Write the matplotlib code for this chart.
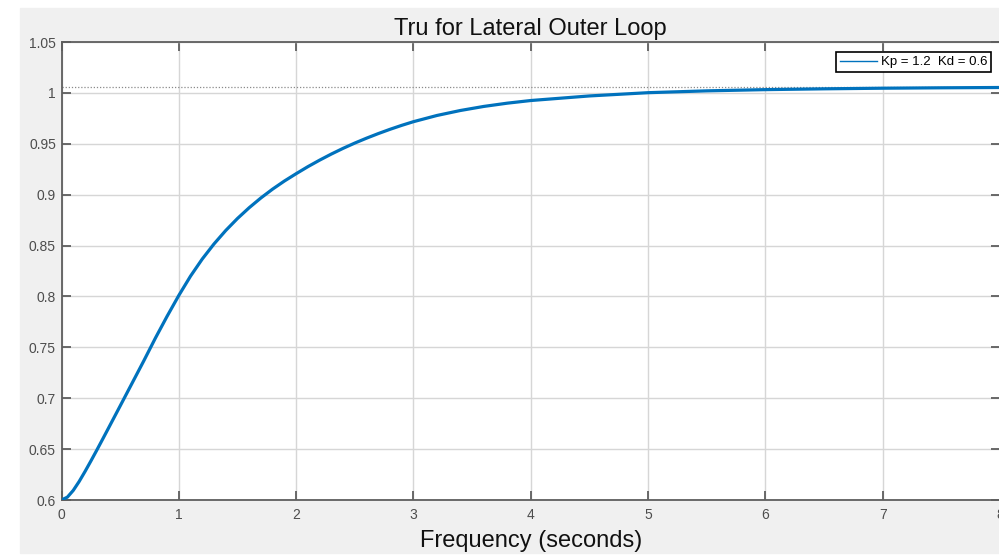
import matplotlib.pyplot as plt
from matplotlib.lines import Line2D
from matplotlib.patches import Rectangle

plt.rcParams['font.family'] = ['Liberation Sans', 'DejaVu Sans']

# values
t = [0, 0.05, 0.1, 0.15, 0.2, 0.25, 0.3, 0.35, 0.4, 0.5, 0.6, 0.7, 0.8, 0.9,
     1.0, 1.1, 1.2, 1.3, 1.4, 1.5, 1.6, 1.7, 1.8, 1.9, 2.0, 2.1, 2.2, 2.3,
     2.4, 2.5, 2.6, 2.7, 2.8, 2.9, 3.0, 3.2, 3.4, 3.6, 3.8, 4.0, 4.5, 5.0,
     5.5, 6.0, 6.5, 7.0, 7.5, 8.0]
y = [0.600, 0.6028, 0.6094, 0.6181, 0.6279, 0.6382, 0.6488, 0.6596, 0.6705,
     0.6924, 0.7144, 0.7364, 0.759, 0.7805, 0.801, 0.820, 0.8368, 0.8516,
     0.8648, 0.8766, 0.8872, 0.8968, 0.9055, 0.9134, 0.9206, 0.9275, 0.9339,
     0.9399, 0.9455, 0.9507, 0.9555, 0.9600, 0.9642, 0.9681, 0.9717, 0.9778,
     0.9827, 0.9867, 0.9899, 0.9925, 0.9970, 1.0002, 1.0020, 1.0032, 1.0040,
     1.0046, 1.0050, 1.0053]
final_value = 1.0062

xticks = [0, 1, 2, 3, 4, 5, 6, 7, 8]
yticks = [0.6, 0.65, 0.7, 0.75, 0.8, 0.85, 0.9, 0.95, 1.0, 1.05]
ylabels = ['0.6', '0.65', '0.7', '0.75', '0.8', '0.85', '0.9', '0.95', '1', '1.05']
legend_label = 'Kp = 1.2  Kd = 0.6'

W, H = 999, 556
fig = plt.figure(figsize=(W / 100, H / 100), dpi=100, facecolor='white')
fig.patches.append(Rectangle((20 / W, 3 / H), 1, (553 - 8) / H,
                             transform=fig.transFigure, color='#f0f0f0', zorder=-10))

# axes run just past the right edge, like the reference (the "8" is clipped)
ax = fig.add_axes([61.5 / W, 1 - 500 / H, 938.5 / W, 458 / H])
ax.set_facecolor('white')

ax.axhline(final_value, color='#8a8a8a', lw=0.9, ls=(0, (1, 1.5)), zorder=2)
ax.plot(t, y, color='#0072BD', lw=2.3, zorder=3)

ax.set_xlim(0, 8)
ax.set_ylim(0.6, 1.05)
ax.set_xticks(xticks)
ax.set_xticklabels([str(v) for v in xticks])
ax.set_yticks(yticks)
ax.set_yticklabels(ylabels)

ax.grid(True, color='#d6d6d6', lw=1.0)
ax.set_axisbelow(True)
for s in ax.spines.values():
    s.set_color('#5e5e5e')
    s.set_linewidth(1.3)
ax.tick_params(direction='in', length=6.5, width=1.3, color='#5e5e5e',
               top=True, right=True, labelsize=10, labelcolor='#4d4d4d')
ax.tick_params(axis='x', pad=5.5)
ax.tick_params(axis='y', pad=4)

ax.set_title('Tru for Lateral Outer Loop', fontsize=17, pad=5, color='#111111')
ax.set_xlabel('Frequency (seconds)', fontsize=17, labelpad=6, color='#111111')

handle = Line2D([], [], color='#0072BD', lw=1)
leg = fig.legend([handle], [legend_label], loc='upper right',
                 bbox_to_anchor=(991 / W, 1 - 52 / H), borderaxespad=0,
                 fontsize=9.5, fancybox=False, framealpha=1, edgecolor='black',
                 handlelength=2.8, handletextpad=0.3, borderpad=0.3)
leg.get_frame().set_linewidth(1.2)

fig.savefig('out.png', dpi=100)
